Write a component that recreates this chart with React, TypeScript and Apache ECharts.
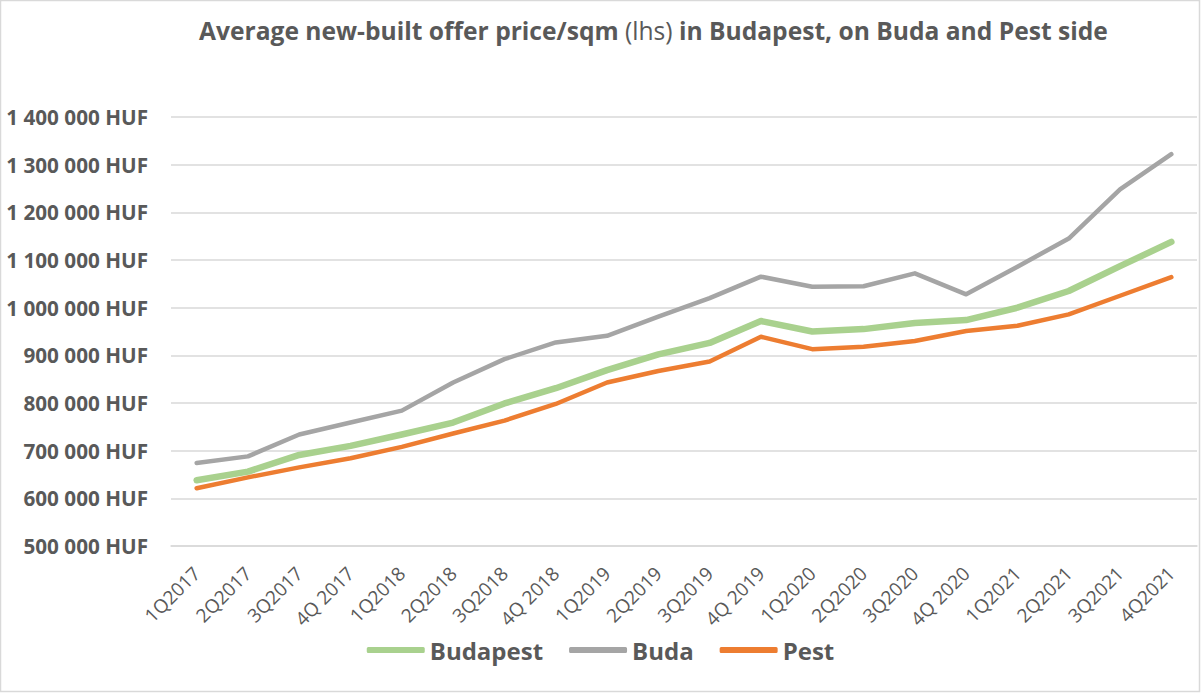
import React, { useEffect, useRef } from "react";
import * as echarts from "echarts";

const categories = [
  "1Q2017", "2Q2017", "3Q2017", "4Q 2017",
  "1Q2018", "2Q2018", "3Q2018", "4Q 2018",
  "1Q2019", "2Q2019", "3Q2019", "4Q 2019",
  "1Q2020", "2Q2020", "3Q2020", "4Q 2020",
  "1Q2021", "2Q2021", "3Q2021", "4Q2021",
];

const budapest = [
  638000, 656000, 691000, 710000, 734000, 759000, 799000, 831000, 869000, 902000,
  926000, 972000, 950000, 955000, 968000, 974000, 1000000, 1035000, 1087000, 1138000,
];
const buda = [
  674000, 688000, 734000, 759000, 784000, 843000, 892000, 927000, 941000, 981000,
  1020000, 1065000, 1044000, 1045000, 1072000, 1028000, 1086000, 1145000, 1248000, 1322000,
];
const pest = [
  621000, 644000, 665000, 684000, 708000, 736000, 763000, 798000, 843000, 867000,
  887000, 939000, 913000, 918000, 930000, 951000, 962000, 986000, 1025000, 1064000,
];

const seriesNames = ["Budapest", "Buda", "Pest"];
const seriesColors = ["#A9D18E", "#A5A5A5", "#ED7D31"];
const seriesWidths = [6.5, 4.5, 4.5];
const seriesData = [budapest, buda, pest];

const FONT = "'Open Sans', sans-serif";
const TEXT = "#595959";

function fmt(v: number): string {
  const s = String(Math.round(v));
  return s.replace(/\B(?=(\d{3})+(?!\d))/g, " ") + " HUF";
}

export default function App() {
  const ref = useRef<HTMLDivElement>(null);
  useEffect(() => {
    if (!ref.current) return;
    const chart = echarts.init(ref.current, undefined, { renderer: "svg" });
    chart.setOption({
      animation: false,
      backgroundColor: "#FFFFFF",
      textStyle: { fontFamily: FONT },
      title: {
        left: 194,
        top: 13,
        text: "{b|Average new-built offer price/sqm }{r|(lhs)}{b| in Budapest, on Buda and Pest side}",
        textStyle: {
          rich: {
            b: { fontFamily: FONT, fontWeight: "bold", fontSize: 24.6, color: TEXT },
            r: { fontFamily: FONT, fontWeight: "normal", fontSize: 24.6, color: TEXT },
          },
        },
      },
      grid: { left: 171, right: 4, top: 117, bottom: 147, containLabel: false },
      legend: {
        left: "center",
        top: 633,
        itemWidth: 58,
        itemHeight: 6,
        itemGap: 26,
        icon: "roundRect",
        textStyle: { fontFamily: FONT, fontWeight: "bold", fontSize: 24, color: TEXT },
        data: seriesNames,
      },
      xAxis: {
        type: "category",
        data: categories,
        boundaryGap: true,
        axisLine: { show: true, lineStyle: { color: "#D9D9D9", width: 1.5 } },
        axisTick: { show: false },
        axisLabel: {
          rotate: 45,
          margin: 24,
          color: TEXT,
          fontFamily: FONT,
          fontSize: 19,
          interval: 0,
        },
      },
      yAxis: {
        type: "value",
        min: 500000,
        max: 1400000,
        interval: 100000,
        axisLine: { show: false },
        axisTick: { show: false },
        splitLine: { lineStyle: { color: "#D9D9D9", width: 1.5 } },
        axisLabel: {
          margin: 23,
          color: TEXT,
          fontFamily: FONT,
          fontWeight: "bold",
          fontSize: 20.7,
          formatter: (v: number) => fmt(v),
        },
      },
      series: seriesNames.map((name, i) => ({
        name,
        type: "line",
        data: seriesData[i],
        symbol: "none",
        color: seriesColors[i],
        lineStyle: { color: seriesColors[i], width: seriesWidths[i], cap: "round", join: "round" },
        itemStyle: { color: seriesColors[i] },
      })),
      graphic: [
        {
          type: "rect",
          shape: { x: 0.5, y: 0.5, width: 1199, height: 691 },
          style: { fill: "none", stroke: "#D9D9D9", lineWidth: 1.5 },
          silent: true,
        },
      ],
    });
    return () => chart.dispose();
  }, []);
  return (
    <div
      ref={ref}
      style={{ position: "fixed", left: 0, top: 0, width: 1201, height: 693 }}
    />
  );
}
